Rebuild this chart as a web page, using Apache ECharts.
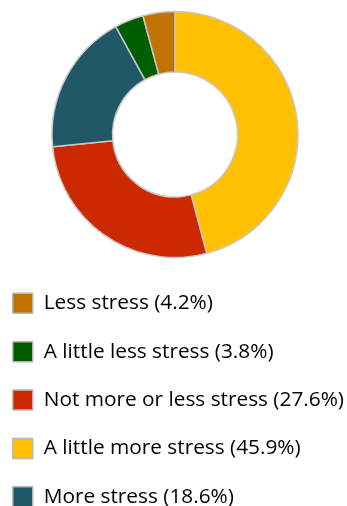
<!DOCTYPE html>
<html><head><meta charset="utf-8">
<script src="https://cdn.jsdelivr.net/npm/echarts@6/dist/echarts.min.js"></script>
<style>html,body{margin:0;padding:0;background:#fff}#c{width:347px;height:506px}</style>
</head><body><div id="c"></div>
<script>
// Slice order clockwise from 12 o'clock
const categories = ['A little more stress', 'Not more or less stress', 'More stress', 'A little less stress', 'Less stress'];
const values = [45.9, 27.6, 18.6, 3.8, 4.2];
const colors = ['#FFC000', '#CC2900', '#215868', '#005E00', '#C07300'];
// Legend order
const legendOrder = ['Less stress', 'A little less stress', 'Not more or less stress', 'A little more stress', 'More stress'];

const chart = echarts.init(document.getElementById('c'), null, {renderer: 'canvas'});
chart.setOption({
  animation: false,
  legend: {
    orient: 'vertical',
    left: 7,
    top: 287.5,
    height: 220,
    padding: 5,
    data: legendOrder,
    icon: 'rect',
    itemWidth: 20,
    itemHeight: 20,
    itemGap: 26.9,
    itemStyle: {borderColor: '#b8b8b8', borderWidth: 1.5},
    selectedMode: false,
    formatter: function (name) {
      const i = categories.indexOf(name);
      return name + ' (' + values[i].toFixed(1) + '%)';
    },
    textStyle: {fontFamily: 'Open Sans', fontSize: 20.8, lineHeight: 20, color: '#000', padding: [0, 0, 0, 6]}
  },
  series: [{
    type: 'pie',
    center: [175, 134.5],
    radius: [62.5, 123],
    startAngle: 90,
    clockwise: true,
    label: {show: false},
    labelLine: {show: false},
    emphasis: {disabled: true},
    itemStyle: {borderColor: '#c8c8c8', borderWidth: 1.5},
    data: categories.map((n, i) => ({name: n, value: values[i], itemStyle: {color: colors[i]}}))
  }]
});
</script></body></html>
